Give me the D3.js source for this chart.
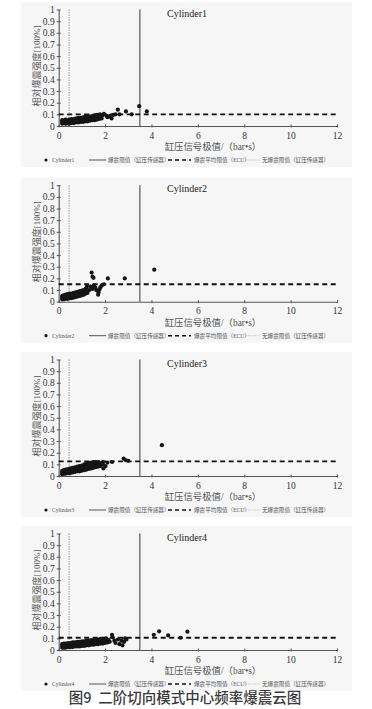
<!DOCTYPE html>
<html>
<head>
<meta charset="utf-8">
<script src="https://cdn.jsdelivr.net/npm/d3@7"></script>
<style>
  body { margin: 0; background: #fff; }
  svg { display: block; }
</style>
</head>
<body>
<svg width="372" height="709"></svg>
<script>
// values
var xTicks = [0, 2, 4, 6, 8, 10, 12];
var yTicks = [0, 0.1, 0.2, 0.3, 0.4, 0.5, 0.6, 0.7, 0.8, 0.9, 1];
var cylNames = ["Cylinder1", "Cylinder2", "Cylinder3", "Cylinder4"];
var knockLimit = 3.5;      // 爆震限值（缸压传感器）
var noKnockLimit = 0.45;   // 无爆震限值（缸压传感器）
var ecuLimit = [0.1, 0.15, 0.125, 0.105]; // 爆震平均限值（ECU）

var cyl1 = [
  [0.15,0.02],[0.15,0.035],[0.15,0.05],
  [0.22,0.025],[0.22,0.045],
  [0.3,0.02],[0.3,0.035],[0.3,0.055],
  [0.38,0.025],[0.38,0.045],
  [0.45,0.02],[0.45,0.035],[0.45,0.055],
  [0.55,0.025],[0.55,0.04],[0.55,0.06],
  [0.65,0.025],[0.65,0.045],[0.65,0.06],
  [0.75,0.03],[0.75,0.045],[0.75,0.065],
  [0.85,0.03],[0.85,0.05],[0.85,0.07],
  [0.95,0.035],[0.95,0.055],[0.95,0.07],
  [1.05,0.035],[1.05,0.055],[1.05,0.075],
  [1.15,0.04],[1.15,0.06],[1.15,0.085],
  [1.25,0.04],[1.25,0.065],[1.25,0.085],
  [1.35,0.045],[1.35,0.065],[1.35,0.08],
  [1.45,0.05],[1.45,0.07],[1.45,0.085],
  [1.55,0.05],[1.55,0.075],[1.55,0.09],
  [1.65,0.055],[1.65,0.08],[1.65,0.095],
  [1.75,0.06],[1.75,0.085],[1.78,0.1],
  [1.85,0.065],[1.88,0.09],[1.95,0.105],
  [2.05,0.09],[2.1,0.075],[2.2,0.085],[2.28,0.065],[2.35,0.095],[2.45,0.1],
  [2.55,0.14],[2.62,0.1],[2.9,0.125],[3.15,0.1],[3.47,0.17],[3.8,0.125]
];

var cyl2 = [
  [0.15,0.02],[0.15,0.035],[0.15,0.05],
  [0.22,0.02],[0.22,0.04],[0.22,0.055],
  [0.3,0.025],[0.3,0.04],[0.3,0.06],
  [0.38,0.025],[0.38,0.045],[0.38,0.065],
  [0.46,0.03],[0.46,0.05],[0.46,0.07],
  [0.55,0.03],[0.55,0.05],[0.55,0.07],
  [0.64,0.035],[0.64,0.055],[0.64,0.075],
  [0.73,0.04],[0.73,0.06],[0.73,0.08],
  [0.82,0.045],[0.82,0.065],[0.82,0.085],
  [0.91,0.05],[0.91,0.07],[0.91,0.09],
  [1.0,0.055],[1.0,0.075],[1.0,0.095],
  [1.08,0.06],[1.08,0.08],[1.08,0.1],
  [1.16,0.07],[1.16,0.09],[1.16,0.11],
  [1.24,0.075],[1.24,0.1],[1.22,0.13],
  [1.32,0.1],[1.38,0.13],[1.42,0.25],[1.46,0.215],[1.5,0.205],[1.46,0.11],[1.52,0.14],[1.58,0.12],[1.62,0.1],
  [1.7,0.06],[1.72,0.08],[1.76,0.105],[1.8,0.125],[1.86,0.14],[1.95,0.15],[2.12,0.2],[2.85,0.2],[4.12,0.275]
];

var cyl3 = [
  [0.15,0.015],[0.15,0.03],[0.15,0.045],
  [0.22,0.02],[0.22,0.035],[0.22,0.05],
  [0.3,0.02],[0.3,0.04],[0.3,0.055],
  [0.4,0.025],[0.4,0.04],[0.4,0.06],
  [0.5,0.025],[0.5,0.045],[0.5,0.065],
  [0.6,0.03],[0.6,0.05],[0.6,0.07],
  [0.7,0.035],[0.7,0.055],[0.7,0.075],
  [0.8,0.04],[0.8,0.06],[0.8,0.08],
  [0.9,0.04],[0.9,0.065],[0.9,0.085],
  [1.0,0.045],[1.0,0.07],[1.0,0.09],
  [1.1,0.05],[1.1,0.075],[1.1,0.1],
  [1.2,0.055],[1.2,0.08],[1.2,0.105],
  [1.3,0.06],[1.3,0.085],[1.3,0.11],
  [1.4,0.065],[1.4,0.09],[1.4,0.115],
  [1.5,0.07],[1.5,0.095],[1.5,0.12],
  [1.6,0.075],[1.6,0.1],[1.6,0.12],
  [1.7,0.08],[1.7,0.1],[1.72,0.12],
  [1.8,0.085],[1.82,0.11],[1.9,0.1],[1.92,0.12],
  [1.93,0.065],[2.02,0.085],[2.1,0.115],[2.3,0.12],[2.8,0.15],[2.9,0.135],[3.0,0.13],[4.45,0.265]
];

var cyl4 = [
  [0.15,0.02],[0.15,0.035],[0.15,0.05],
  [0.22,0.02],[0.22,0.04],[0.22,0.055],
  [0.3,0.02],[0.3,0.035],[0.3,0.055],
  [0.4,0.025],[0.4,0.04],[0.4,0.06],
  [0.5,0.025],[0.5,0.045],[0.5,0.06],
  [0.6,0.025],[0.6,0.045],[0.6,0.065],
  [0.7,0.03],[0.7,0.045],[0.7,0.065],
  [0.8,0.03],[0.8,0.05],[0.8,0.07],
  [0.9,0.03],[0.9,0.05],[0.9,0.07],
  [1.0,0.035],[1.0,0.055],[1.0,0.075],
  [1.1,0.035],[1.1,0.055],[1.1,0.075],
  [1.2,0.04],[1.2,0.06],[1.2,0.08],
  [1.3,0.04],[1.3,0.06],[1.3,0.08],
  [1.4,0.045],[1.4,0.065],[1.4,0.085],
  [1.5,0.045],[1.5,0.065],[1.5,0.085],
  [1.6,0.05],[1.6,0.07],[1.6,0.09],
  [1.7,0.05],[1.7,0.07],[1.7,0.09],
  [1.8,0.055],[1.8,0.075],[1.8,0.095],
  [1.9,0.055],[1.9,0.075],[1.9,0.095],
  [2.0,0.06],[2.0,0.08],[2.05,0.1],
  [2.1,0.065],[2.15,0.085],[2.2,0.07],
  [2.3,0.13],[2.32,0.11],[2.4,0.08],[2.45,0.06],[2.55,0.09],[2.62,0.05],[2.7,0.08],[2.75,0.04],[2.82,0.07],[2.86,0.1],[2.92,0.09],
  [4.1,0.13],[4.33,0.16],[4.72,0.125],[5.26,0.105],[5.55,0.157]
];

var cylData = [cyl1, cyl2, cyl3, cyl4];

// layout
var svg = d3.select("svg");
var serif = "Liberation Serif, Times New Roman, DejaVu Serif, Noto Sans CJK SC, serif";
var panelBase = [126, 301.7, 476, 650];   // pixel row of value 0 per panel
var plotH = 116.5;

var x = d3.scaleLinear().domain([0, 12]).range([58.7, 337]);

cylData.forEach(function (pts, i) {
    var y0 = panelBase[i];
    var y = d3.scaleLinear().domain([0, 1]).range([y0, y0 - plotH]);
    var g = svg.append("g");

    g.append("rect")
        .attr("x", 21).attr("y", y0 - 124)
        .attr("width", 331).attr("height", 165)
        .attr("fill", "#f6f6f6");

    // no-knock limit (grey dotted)
    g.append("line")
        .attr("x1", x(noKnockLimit)).attr("x2", x(noKnockLimit))
        .attr("y1", y(1)).attr("y2", y(0))
        .attr("stroke", "#b5b5b5").attr("stroke-width", 1.4)
        .attr("stroke-dasharray", "1.5,1");

    // knock limit (solid)
    g.append("line")
        .attr("x1", x(knockLimit)).attr("x2", x(knockLimit))
        .attr("y1", y(1)).attr("y2", y(0))
        .attr("stroke", "#555").attr("stroke-width", 1.2);

    // axes
    var xAxis = g.append("g")
        .attr("transform", "translate(0," + y0 + ")")
        .call(d3.axisBottom(x).tickValues(xTicks).tickSize(3).tickSizeOuter(0));
    xAxis.selectAll(".tick line").attr("y1", -1.5).attr("y2", 1.5);

    var yAxis = g.append("g")
        .attr("transform", "translate(" + x(0) + ",0)")
        .call(d3.axisLeft(y).tickValues(yTicks).tickSize(3).tickSizeOuter(0)
            .tickFormat(function (d) { return +d.toFixed(1); }));
    yAxis.selectAll(".tick line").attr("x1", -2).attr("x2", 2);
    yAxis.selectAll(".tick text").attr("x", -4);

    [xAxis, yAxis].forEach(function (a) {
        a.attr("font-family", serif);
        a.select(".domain").attr("stroke", "#555").attr("stroke-width", 1.1);
        a.selectAll(".tick line").attr("stroke", "#555");
        a.selectAll(".tick text")
            .style("font-family", serif).attr("font-size", 9.5).attr("fill", "#333");
    });
    xAxis.selectAll(".tick text").attr("y", 6);

    // ECU average limit (dashed)
    g.append("line")
        .attr("x1", x(0)).attr("x2", x(12))
        .attr("y1", y(ecuLimit[i])).attr("y2", y(ecuLimit[i]))
        .attr("stroke", "#111").attr("stroke-width", 1.8)
        .attr("stroke-dasharray", "5,3.5");

    // scatter
    g.append("g").selectAll("circle")
        .data(pts)
        .enter().append("circle")
        .attr("cx", function (d) { return x(d[0]); })
        .attr("cy", function (d) { return y(d[1]); })
        .attr("r", 2.1)
        .attr("fill", "#151515");

    g.append("text")
        .attr("x", 167).attr("y", y(1) + 7)
        .style("font-family", serif).attr("font-size", 10).attr("fill", "#222")
        .text(cylNames[i]);

    g.append("text")
        .attr("transform", "translate(40," + (y0 - 60) + ") rotate(-90)")
        .attr("text-anchor", "middle")
        .style("font-family", serif).attr("font-size", 9).attr("fill", "#555")
        .text("相对爆震强度[100%]");

    g.append("text")
        .attr("x", 213).attr("y", y0 + 24)
        .attr("text-anchor", "middle")
        .style("font-family", serif).attr("font-size", 9.4).attr("fill", "#555")
        .text("缸压信号极值/（bar•s）");

    // legend
    var ly = y0 + 34;
    var lg = g.append("g")
        .style("font-family", serif).attr("font-size", 5.6).attr("fill", "#555");
    lg.append("circle").attr("cx", 46).attr("cy", ly).attr("r", 1.6).attr("fill", "#151515");
    lg.append("text").attr("x", 52).attr("y", ly + 2).text(cylNames[i]);
    lg.append("line").attr("x1", 89).attr("x2", 106).attr("y1", ly).attr("y2", ly)
        .attr("stroke", "#555").attr("stroke-width", 1);
    lg.append("text").attr("x", 108).attr("y", ly + 2).text("爆震限值（缸压传感器）");
    lg.append("line").attr("x1", 168).attr("x2", 191).attr("y1", ly).attr("y2", ly)
        .attr("stroke", "#111").attr("stroke-width", 1.6).attr("stroke-dasharray", "4,3");
    lg.append("text").attr("x", 194).attr("y", ly + 2).text("爆震平均限值（ECU）");
    lg.append("line").attr("x1", 246).attr("x2", 260).attr("y1", ly).attr("y2", ly)
        .attr("stroke", "#b5b5b5").attr("stroke-width", 0.8).attr("stroke-dasharray", "1,0.8");
    lg.append("text").attr("x", 262).attr("y", ly + 2).text("无爆震限值（缸压传感器）");
});

svg.append("text")
    .attr("x", 185).attr("y", 703)
    .attr("text-anchor", "middle")
    .style("font-family", "Noto Sans CJK SC, sans-serif")
    .attr("font-size", 14.5).attr("font-weight", 500).attr("fill", "#3a3a3a")
    .attr("xml:space", "preserve")
    .text("图9  二阶切向模式中心频率爆震云图");
</script>
</body>
</html>
